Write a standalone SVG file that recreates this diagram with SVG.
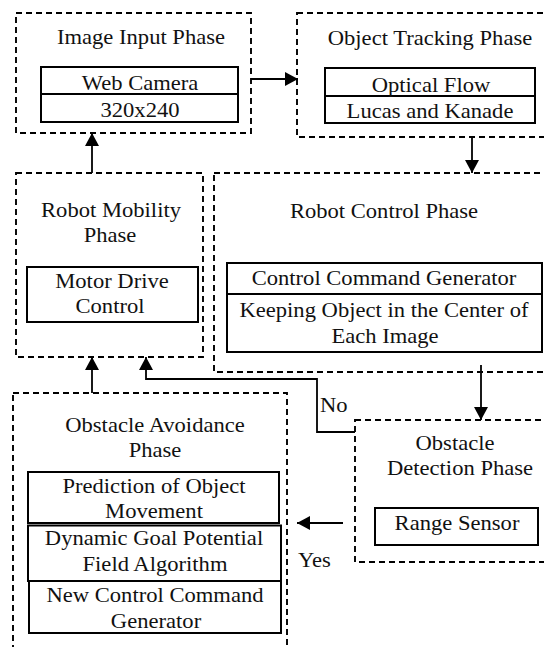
<svg xmlns="http://www.w3.org/2000/svg" width="544" height="647" viewBox="0 0 544 647">
  <style>
    .phase { fill: none; stroke: #000; stroke-width: 1.9; stroke-dasharray: 6 4; }
    .box { fill: #fff; stroke: #000; stroke-width: 2; }
    .wire { fill: none; stroke: #000; stroke-width: 1.8; }
    text { font-size: 20px; fill: #111; }
    .c { text-anchor: middle; }
  </style>
  <defs>
    <marker id="arrow" viewBox="0 0 13 14" refX="13" refY="7" markerWidth="13" markerHeight="14" markerUnits="userSpaceOnUse" orient="auto">
      <path d="M0,0 L13,7 L0,14 Z" fill="#000"/>
    </marker>
  </defs>
  <rect width="544" height="647" fill="#fff"/>

  <!-- Image input -->
  <g id="image-input">
    <rect class="phase" x="16" y="13" width="235" height="120"/>
    <text class="c" font-family="Liberation Serif" transform="translate(141 44) scale(1.13 1)">Image Input Phase</text>
    <rect class="box" x="41" y="67" width="197" height="27"/>
    <rect class="box" x="41" y="94" width="197" height="28"/>
    <text class="c" font-family="Liberation Serif" transform="translate(140 90) scale(1.13 1)">Web Camera</text>
    <text class="c" font-family="Liberation Serif" transform="translate(140 117) scale(1.13 1)">320x240</text>
  </g>

  <!-- Object tracking -->
  <g id="object-tracking">
    <rect class="phase" x="297" y="13" width="252" height="124"/>
    <text class="c" font-family="Liberation Serif" transform="translate(430 45) scale(1.13 1)">Object Tracking Phase</text>
    <rect class="box" x="325" y="68" width="210" height="28"/>
    <rect class="box" x="325" y="96" width="210" height="27"/>
    <text class="c" font-family="Liberation Serif" transform="translate(431 92) scale(1.13 1)">Optical Flow</text>
    <text class="c" font-family="Liberation Serif" transform="translate(430 118) scale(1.13 1)">Lucas and Kanade</text>
  </g>

  <!-- Robot mobility -->
  <g id="robot-mobility">
    <rect class="phase" x="16" y="173" width="187" height="184"/>
    <text class="c" font-family="Liberation Serif" transform="translate(111 217) scale(1.13 1)">Robot Mobility</text>
    <text class="c" font-family="Liberation Serif" transform="translate(110 242) scale(1.13 1)">Phase</text>
    <rect class="box" x="27" y="267" width="171" height="55"/>
    <text class="c" font-family="Liberation Serif" transform="translate(112 288) scale(1.13 1)">Motor Drive</text>
    <text class="c" font-family="Liberation Serif" transform="translate(110 313) scale(1.13 1)">Control</text>
  </g>

  <!-- Robot control -->
  <g id="robot-control">
    <rect class="phase" x="214" y="173" width="335" height="199"/>
    <text class="c" font-family="Liberation Serif" transform="translate(384 218) scale(1.13 1)">Robot Control Phase</text>
    <rect class="box" x="227" y="263" width="315" height="31"/>
    <rect class="box" x="227" y="294" width="315" height="58"/>
    <text class="c" font-family="Liberation Serif" transform="translate(384 285) scale(1.13 1)">Control Command Generator</text>
    <text class="c" font-family="Liberation Serif" transform="translate(384 317) scale(1.13 1)">Keeping Object in the Center of</text>
    <text class="c" font-family="Liberation Serif" transform="translate(385 343) scale(1.13 1)">Each Image</text>
  </g>

  <!-- Obstacle avoidance -->
  <g id="obstacle-avoidance">
    <rect class="phase" x="13" y="393" width="274" height="270"/>
    <text class="c" font-family="Liberation Serif" transform="translate(155 432) scale(1.13 1)">Obstacle Avoidance</text>
    <text class="c" font-family="Liberation Serif" transform="translate(155 457) scale(1.13 1)">Phase</text>
    <rect class="box" x="28" y="472" width="251" height="51"/>
    <text class="c" font-family="Liberation Serif" transform="translate(154 493) scale(1.13 1)">Prediction of Object</text>
    <text class="c" font-family="Liberation Serif" transform="translate(154 518) scale(1.13 1)">Movement</text>
    <rect class="box" x="28" y="525.5" width="253" height="55.5" style="fill:none"/>
    <text class="c" font-family="Liberation Serif" transform="translate(154 545) scale(1.13 1)">Dynamic Goal Potential</text>
    <text class="c" font-family="Liberation Serif" transform="translate(155 571) scale(1.13 1)">Field Algorithm</text>
    <rect class="box" x="29" y="581" width="252" height="52" style="fill:none"/>
    <text class="c" font-family="Liberation Serif" transform="translate(155 602) scale(1.13 1)">New Control Command</text>
    <text class="c" font-family="Liberation Serif" transform="translate(156 628) scale(1.13 1)">Generator</text>
  </g>

  <!-- Obstacle detection -->
  <g id="obstacle-detection">
    <rect class="phase" x="355" y="420" width="194" height="142"/>
    <text class="c" font-family="Liberation Serif" transform="translate(455 450) scale(1.13 1)">Obstacle</text>
    <text class="c" font-family="Liberation Serif" transform="translate(460 475) scale(1.13 1)">Detection Phase</text>
    <rect class="box" x="375" y="508" width="163" height="37"/>
    <text class="c" font-family="Liberation Serif" transform="translate(457 530) scale(1.13 1)">Range Sensor</text>
  </g>

  <!-- Connectors -->
  <g id="connectors">
    <line class="wire" x1="251" y1="79" x2="298" y2="79" marker-end="url(#arrow)"/>
    <line class="wire" x1="472" y1="137" x2="472" y2="173" marker-end="url(#arrow)"/>
    <line class="wire" x1="481" y1="365" x2="481" y2="420" marker-end="url(#arrow)"/>
    <polyline class="wire" points="355,432 317,432 317,379 146,379 146,357" marker-end="url(#arrow)"/>
    <line class="wire" x1="343" y1="523" x2="297" y2="523" marker-end="url(#arrow)"/>
    <line class="wire" x1="92" y1="393" x2="92" y2="357" marker-end="url(#arrow)"/>
    <line class="wire" x1="92" y1="173" x2="92" y2="133" marker-end="url(#arrow)"/>
    <text font-family="Liberation Serif" transform="translate(320 412) scale(1.13 1)">No</text>
    <text font-family="Liberation Serif" transform="translate(298 567) scale(1.13 1)">Yes</text>
  </g>
</svg>
